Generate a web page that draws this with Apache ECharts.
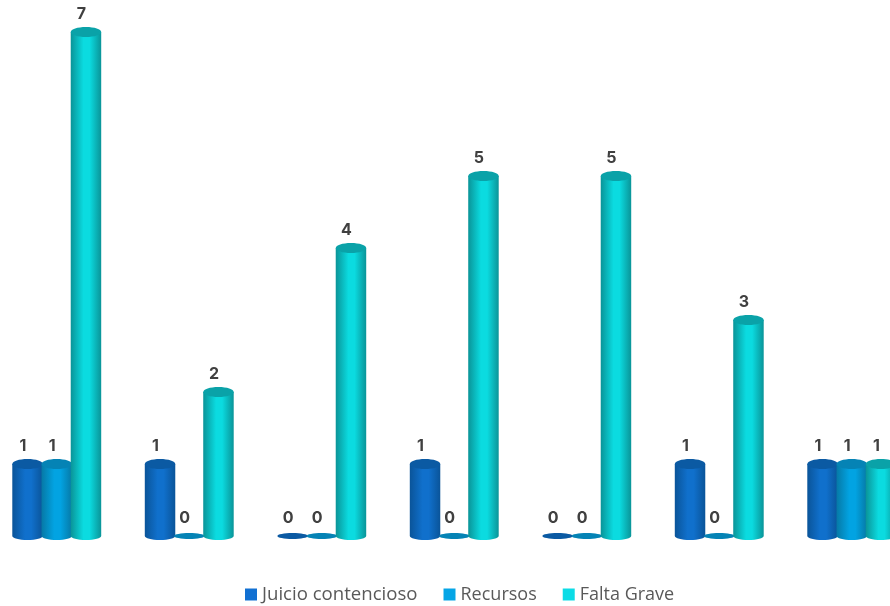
<!DOCTYPE html>
<html>
<head>
<meta charset="utf-8">
<style>html,body{margin:0;padding:0;background:#fff}#c{width:890px;height:606px}</style>
<script src="https://cdn.jsdelivr.net/npm/echarts@6/dist/echarts.min.js"></script>
</head>
<body>
<div id="c"></div>
<script>
const categories = ['1', '2', '3', '4', '5', '6', '7'];
const juicioContencioso = [1, 1, 0, 1, 0, 1, 1];
const recursos = [1, 0, 0, 0, 0, 0, 1];
const faltaGrave = [7, 2, 4, 5, 5, 3, 1];
const seriesNames = ['Juicio contencioso', 'Recursos', 'Falta Grave'];
const seriesValues = [juicioContencioso, recursos, faltaGrave];
const legendFontSizes = [18.6, 18, 18];
const palette = [
  {legend: '#1170D2', base: '#1070CC', edge: '#0A5499', top: '#0B5AA3'},
  {legend: '#05A5E6', base: '#02A3E2', edge: '#0679A6', top: '#0583B5'},
  {legend: '#0CDCE6', base: '#0BDBE0', edge: '#0A9498', top: '#0AA2A8'}
];

function cylinder(seriesIdx) {
  const col = palette[seriesIdx];
  return function (params, api) {
    const cat = api.value(0), val = api.value(1);
    const step = api.size([1, 0])[0];
    const offset = (seriesIdx - 1) * step * 0.2205;
    const rx = step * 0.115;
    const top = api.coord([cat, val]);
    const base = api.coord([cat, 0]);
    const cx = top[0] + offset;
    const ryTop = val === 0 ? 3 : 5;
    const ryBot = 4;
    const children = [];
    if (val > 0) {
      const l = cx - rx, r = cx + rx;
      const k = 0.5523;
      children.push({
        type: 'path',
        shape: {
          pathData: `M${l} ${top[1]} L${l} ${base[1]} C${l} ${base[1] + ryBot * k} ${cx - rx * k} ${base[1] + ryBot} ${cx} ${base[1] + ryBot} C${cx + rx * k} ${base[1] + ryBot} ${r} ${base[1] + ryBot * k} ${r} ${base[1]} L${r} ${top[1]} Z`,
          layout: 'cover',
          x: l, y: top[1], width: rx * 2, height: base[1] + ryBot - top[1]
        },
        style: {
          fill: new echarts.graphic.LinearGradient(0, 0, 1, 0, [
            {offset: 0, color: col.edge},
            {offset: 0.42, color: col.base},
            {offset: 0.62, color: col.base},
            {offset: 1, color: col.edge}
          ])
        }
      });
    }
    children.push({
      type: 'ellipse',
      shape: {cx: cx, cy: top[1], rx: rx, ry: ryTop},
      style: {fill: col.top}
    });
    children.push({
      type: 'text',
      style: {
        text: String(val),
        x: cx - 4.5, y: top[1] - 17.5,
        align: 'center', verticalAlign: 'middle',
        font: '700 16px Inter',
        fill: '#404040'
      }
    });
    return {type: 'group', children: children};
  };
}

const chart = echarts.init(document.getElementById('c'), null, {renderer: 'canvas'});
chart.setOption({
  animation: false,
  backgroundColor: '#ffffff',
  legend: {
    data: seriesNames.map((n, i) => ({name: n, textStyle: {fontSize: legendFontSizes[i]}})),
    left: 245,
    top: 585,
    icon: 'rect',
    itemWidth: 12,
    itemHeight: 12,
    itemGap: 26,
    textStyle: {color: '#595959', fontFamily: 'Open Sans'},
    padding: 0
  },
  grid: {left: -9.5, width: 927.5, top: 32, height: 504, outerBoundsMode: 'none'},
  xAxis: {type: 'category', data: categories, show: false},
  yAxis: {type: 'value', min: 0, max: 7, interval: 1, show: false},
  series: seriesValues.map((vals, i) => ({
    name: seriesNames[i],
    type: 'custom',
    clip: false,
    itemStyle: {color: palette[i].legend},
    encode: {x: 0, y: 1},
    data: vals.map((v, c) => [c, v]),
    renderItem: cylinder(i),
    z: 2 + i
  }))
});
</script>
</body>
</html>
